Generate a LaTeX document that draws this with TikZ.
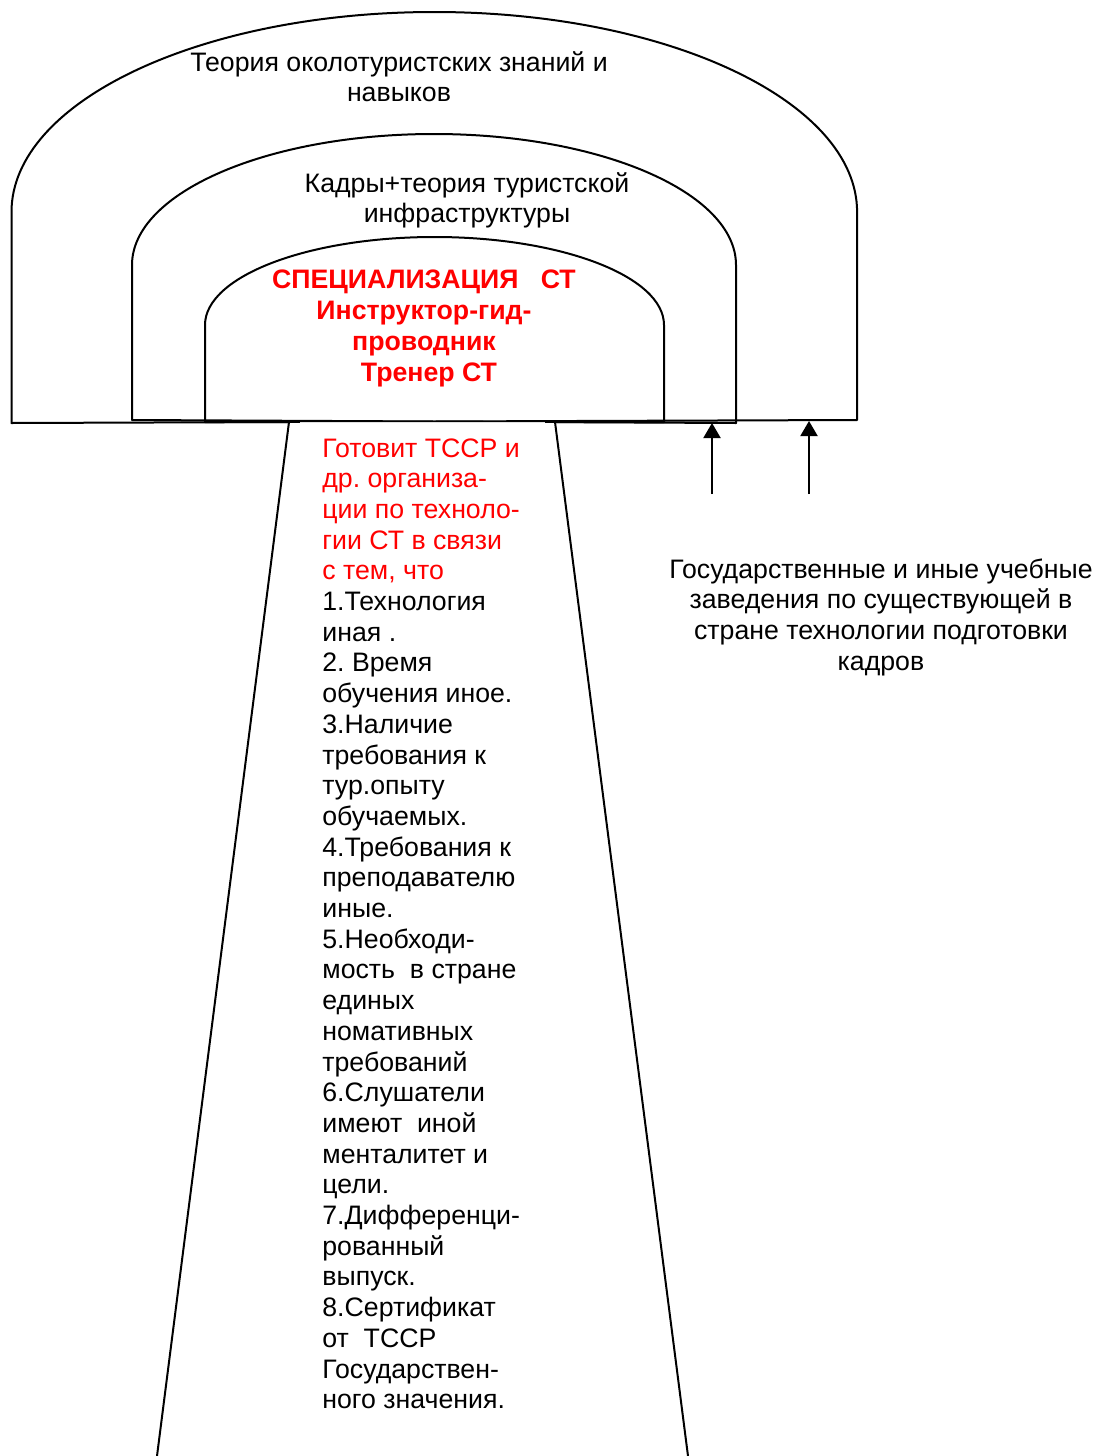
\documentclass[tikz,border=0pt]{standalone}
\usepackage{fontspec}
\setmainfont{Liberation Sans}
\usetikzlibrary{arrows.meta}
\frenchspacing

\tikzset{
	arch/.style = {line width=1pt, line join=round},
	leg/.style = {line width=1pt},
	lbl/.style = {inner sep=0pt, anchor=base, font=\fontsize{13.35pt}{15.35pt}\selectfont},
	upar/.style = {line width=1pt, -{Triangle[width=8.5pt,length=7.5pt]}}
}

\begin{document}
\begin{tikzpicture}[x=0.5pt, y=-0.5pt]
				%\draw[help lines] (0,0) grid (1097,1456);
				\useasboundingbox (0,0) rectangle (1097,1456);
				\fill[white] (0,0) rectangle (1097,1456);
				
				% three arches
				\draw[arch] (11.5,423) -- (11.5,212) arc[start angle=180, end angle=0, x radius=211.4pt, y radius=100pt] -- (857,420) -- cycle;
				\draw[arch] (132,420) -- (132,265) arc[start angle=180, end angle=0, x radius=151pt, y radius=65.5pt] -- (736,423) -- cycle;
				\draw[arch] (205,422) -- (205,325) arc[start angle=180, end angle=0, x radius=114.75pt, y radius=44pt] -- (664,422) -- cycle;
				
				% stem
				\coordinate (stemTL) at (289,422);
				\coordinate (stemTR) at (555,422);
				\coordinate (stemBL) at (157,1456);
				\coordinate (stemBR) at (688,1456);
				\fill[white] (stemTL) -- (stemBL) -- (stemBR) -- (stemTR) -- cycle;
				\draw[leg] (stemTL) -- (stemBL);
				\draw[leg] (stemTR) -- (stemBR);
				\draw[leg] (stemTL) -- (300,422);
				\draw[leg] (545,422) -- (stemTR);
				\draw[gray!25] (300,422) -- (545,422);
				
				\node[lbl] (outerlbl) at (399,71) {\parbox[t]{260pt}{\centering Теория околотуристских знаний и\\ навыков}};
				\node[lbl] (midlbl) at (467,192) {\parbox[t]{220pt}{\centering Кадры+теория туристской\\ инфраструктуры}};
				\node[lbl, text=red, font=\fontsize{13.35pt}{15.5pt}\selectfont\bfseries] (innerlbl) at (424,288) {\parbox[t]{200pt}{\centering СПЕЦИАЛИЗАЦИЯ\ \ \ СТ\\ Инструктор-гид-\\ проводник\\ \hspace*{5pt}Тренер СТ}};
				
				\node[lbl, anchor=base west] (reasons) at (322,457) {\parbox[t]{130pt}{\raggedright\leavevmode
					\color{red}Готовит ТССР и\\ др. организа-\\ ции по техноло-\\ гии СТ в связи\\ с тем, что\\
					\color{black}1.Технология\\ иная .\\ 2. Время\\ обучения иное.\\ 3.Наличие\\ требования к\\ тур.опыту\\ обучаемых.\\
					4.Требования к\\ преподавателю\\ иные.\\ 5.Необходи-\\ мость\ \ в стране\\ единых\\ номативных\\ требований\\
					6.Слушатели\\ имеют\ \ иной\\ менталитет и\\ цели.\\ 7.Дифференци-\\ рованный\\ выпуск.\\
					8.Сертификат\\ от\ \ ТССР\\ Государствен-\\ ного значения.}};
				
				\node[lbl] (schools) at (881,578) {\parbox[t]{240pt}{\centering Государственные и иные учебные\\ заведения по существующей в\\ стране технологии подготовки\\ кадров}};
				
				\coordinate (tailA) at (712,494);
				\coordinate (headA) at (712,423);
				\coordinate (tailB) at (809,494);
				\coordinate (headB) at (809,421);
				\draw[upar] (tailA) -- (headA);
				\draw[upar] (tailB) -- (headB);
\end{tikzpicture}
\end{document}
